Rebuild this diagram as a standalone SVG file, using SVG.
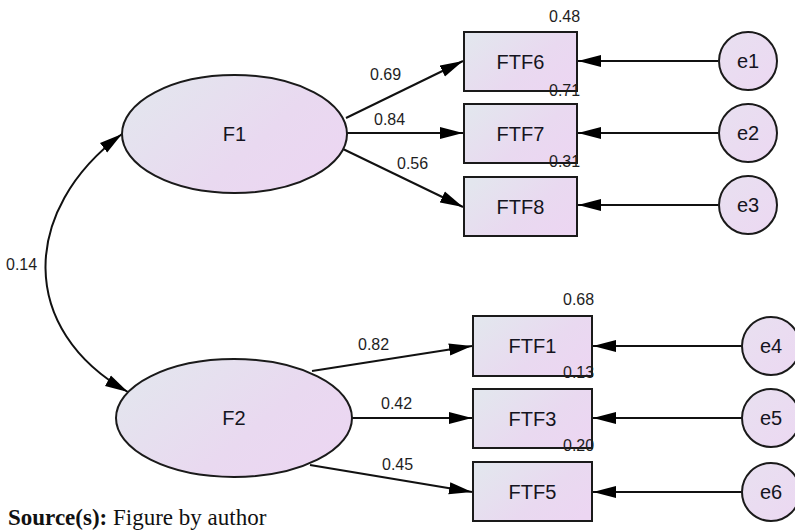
<svg xmlns="http://www.w3.org/2000/svg" width="795" height="531" viewBox="0 0 795 531">
<defs>
<linearGradient id="g" x1="0" y1="0.2" x2="1" y2="0.8">
<stop offset="0" stop-color="#e3e6ee"/>
<stop offset="0.6" stop-color="#e9d9f0"/>
<stop offset="1" stop-color="#ecd6f2"/>
</linearGradient>
<linearGradient id="gc" x1="0" y1="0" x2="1" y2="1">
<stop offset="0" stop-color="#e8e0f0"/>
<stop offset="1" stop-color="#ecd8f2"/>
</linearGradient>
<marker id="ah" markerUnits="userSpaceOnUse" markerWidth="24" markerHeight="13" refX="23" refY="6.5" orient="auto-start-reverse">
<path d="M0,0.5 L23,6.5 L0,12.5 z" fill="#000"/>
</marker>
<style>
.shape{stroke:#1a1a1a;stroke-width:2;fill:url(#g)}
.circ{stroke:#1a1a1a;stroke-width:2;fill:url(#gc)}
.lbl{font-family:"Liberation Sans",Arial,sans-serif;font-size:20px;fill:#141420;text-anchor:middle}
.num{font-family:"Liberation Sans",Arial,sans-serif;font-size:16px;fill:#1e1e1e}
.conn{stroke:#111;stroke-width:2;fill:none;marker-end:url(#ah)}
</style>
</defs>
<rect width="795" height="531" fill="#fff"/>
<g id="connectors">
<path class="conn" d="M346,118 L463,61"/>
<path class="conn" d="M347,133 L463,133"/>
<path class="conn" d="M343,149 L463,207"/>
<path class="conn" d="M312,371 L472,346"/>
<path class="conn" d="M352,418 L472,418"/>
<path class="conn" d="M310,465 L472,492"/>
<path class="conn" d="M718,61 L578,61"/>
<path class="conn" d="M718,133 L578,133"/>
<path class="conn" d="M718,205 L578,205"/>
<path class="conn" d="M742,346 L593,346"/>
<path class="conn" d="M742,418 L593,418"/>
<path class="conn" d="M742,492 L593,492"/>
<path class="conn" style="marker-start:url(#ah)" d="M122,134 C20,210 18,330 128,392"/>
</g>
<g id="F1"><ellipse class="shape" cx="234.5" cy="134" rx="112.5" ry="59"/><text class="lbl" x="234.5" y="141">F1</text></g>
<g id="F2"><ellipse class="shape" cx="234" cy="418" rx="118" ry="59"/><text class="lbl" x="234" y="425">F2</text></g>
<g id="FTF6"><rect class="shape" x="464" y="32" width="113" height="59"/><text class="lbl" x="520.5" y="68.5">FTF6</text></g>
<g id="FTF7"><rect class="shape" x="464" y="104" width="113" height="59"/><text class="lbl" x="520.5" y="140.5">FTF7</text></g>
<g id="FTF8"><rect class="shape" x="464" y="177" width="113" height="59"/><text class="lbl" x="520.5" y="213.5">FTF8</text></g>
<g id="FTF1"><rect class="shape" x="473" y="316" width="119" height="60"/><text class="lbl" x="532.5" y="353">FTF1</text></g>
<g id="FTF3"><rect class="shape" x="473" y="389" width="119" height="59"/><text class="lbl" x="532.5" y="425.5">FTF3</text></g>
<g id="FTF5"><rect class="shape" x="473" y="462" width="119" height="59"/><text class="lbl" x="532.5" y="498.5">FTF5</text></g>
<g id="e1"><circle class="circ" cx="748" cy="61" r="29"/><text class="lbl" x="748" y="68">e1</text></g>
<g id="e2"><circle class="circ" cx="748" cy="133" r="29"/><text class="lbl" x="748" y="140">e2</text></g>
<g id="e3"><circle class="circ" cx="748" cy="205" r="29"/><text class="lbl" x="748" y="212">e3</text></g>
<g id="e4"><circle class="circ" cx="771" cy="346" r="29"/><text class="lbl" x="771" y="353">e4</text></g>
<g id="e5"><circle class="circ" cx="771" cy="418" r="29"/><text class="lbl" x="771" y="425">e5</text></g>
<g id="e6"><circle class="circ" cx="771" cy="492" r="29"/><text class="lbl" x="771" y="499">e6</text></g>
<g id="labels">
<text class="num" x="549" y="22">0.48</text>
<text class="num" x="549" y="96">0.71</text>
<text class="num" x="549" y="167">0.31</text>
<text class="num" x="370" y="80">0.69</text>
<text class="num" x="374" y="125">0.84</text>
<text class="num" x="397" y="169">0.56</text>
<text class="num" x="563" y="305">0.68</text>
<text class="num" x="563" y="378">0.13</text>
<text class="num" x="563" y="451">0.20</text>
<text class="num" x="358" y="350">0.82</text>
<text class="num" x="381" y="409">0.42</text>
<text class="num" x="382" y="470">0.45</text>
<text class="num" x="6" y="270">0.14</text>
</g>
<text x="8" y="525" font-family="'Liberation Serif','Times New Roman',serif" font-size="23" fill="#111"><tspan font-weight="bold">Source(s):</tspan> Figure by author</text>
</svg>
